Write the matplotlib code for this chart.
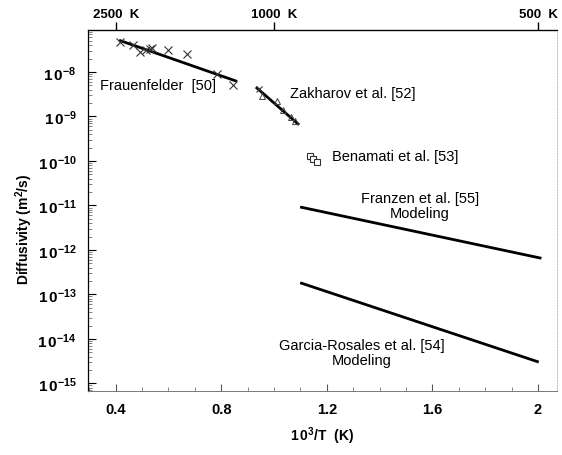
import matplotlib
matplotlib.use("Agg")
import matplotlib.pyplot as plt
import numpy as np
from matplotlib.ticker import (FixedLocator, FuncFormatter,
                               MultipleLocator, NullFormatter)

plt.rcParams['font.family'] = ['Liberation Sans', 'DejaVu Sans']
plt.rcParams['mathtext.fontset'] = 'custom'
plt.rcParams['mathtext.rm'] = 'Liberation Sans'
plt.rcParams['mathtext.bf'] = 'Liberation Sans:bold'

# Frauenfelder [50] measurements and fit
frau_x = [0.418, 0.466, 0.491, 0.516, 0.529, 0.539, 0.598, 0.672, 0.782, 0.845]
frau_d = [4.8e-8, 4.05e-8, 2.77e-8, 3.17e-8, 3.29e-8, 3.41e-8, 3.12e-8, 2.53e-8, 9.0e-9, 5.1e-9]
frau_fit_x = [0.418, 0.855]
frau_fit_d = [5.05e-8, 6.3e-9]

# Zakharov et al. [52]
zak_x = [0.943, 0.956, 1.012, 1.034, 1.064, 1.079]
zak_d = [4.15e-9, 2.85e-9, 2.27e-9, 1.42e-9, 9.6e-10, 8.05e-10]
zak_fit_x = [0.935, 1.091]
zak_fit_d = [4.37e-9, 6.8e-10]

# Benamati et al. [53]
ben_x = [1.136, 1.148, 1.163]
ben_d = [1.28e-10, 1.11e-10, 9.35e-11]

# modeling curves
franzen_x = [1.104, 2.008]
franzen_d = [9.1e-12, 6.6e-13]
garcia_x = [1.104, 1.998]
garcia_d = [1.79e-13, 3.09e-15]

x_ticks = [0.4, 0.8, 1.2, 1.6, 2.0]
y_decades = [-15, -14, -13, -12, -11, -10, -9, -8]
top_ticks = [0.4, 1.0, 2.0]
top_labels = ['2500  K', '1000  K', '500  K']

fig = plt.figure(figsize=(5.62, 4.56), dpi=100)
ax = fig.add_axes([0.1566, 0.1404, 0.8344, 0.7916])

ax.plot(frau_fit_x, frau_fit_d, color='black', lw=2)
ax.plot(frau_x, frau_d, 'x', color='#333333', ms=6, mew=0.8)
ax.plot(zak_fit_x, zak_fit_d, color='black', lw=2)
ax.plot(zak_x[:1], zak_d[:1], 'x', color='#333333', ms=5, mew=0.8)
ax.plot(zak_x[1:], zak_d[1:], '^', mfc='none', mec='#444444', ms=5, mew=0.7)
ax.plot(ben_x, ben_d, 's', mfc='white', mec='#333333', ms=5, mew=0.8)
ax.plot(franzen_x, franzen_d, color='black', lw=2)
ax.plot(garcia_x, garcia_d, color='black', lw=2)

ax.set_yscale('log')
ax.set_xlim(0.295, 2.072)
ax.set_ylim(10 ** -15.17, 10 ** -7.056)

fs = 10.5
ax.text(0.339, 5.1e-9, 'Frauenfelder  [50]', fontsize=fs, va='center')
ax.text(1.06, 3.4e-9, 'Zakharov et al. [52]', fontsize=fs, va='center')
ax.text(1.219, 1.3e-10, 'Benamati et al. [53]', fontsize=fs, va='center')
ax.text(1.553, 9.8e-12, 'Franzen et al. [55]\nModeling', fontsize=fs,
        ha='center', va='center', linespacing=1.1)
ax.text(1.333, 4.9e-15, 'Garcia-Rosales et al. [54]\nModeling', fontsize=fs,
        ha='center', va='center', linespacing=1.1)

# spines
ax.spines['left'].set_linewidth(0.9)
ax.spines['top'].set_linewidth(0.9)
ax.spines['bottom'].set_color('#777777')
ax.spines['bottom'].set_linewidth(0.7)
ax.spines['right'].set_color('#bbbbbb')
ax.spines['right'].set_linestyle(':')
ax.spines['right'].set_linewidth(0.7)

ax.xaxis.set_major_locator(FixedLocator(x_ticks))
ax.xaxis.set_minor_locator(MultipleLocator(0.1))
ax.xaxis.set_major_formatter(FuncFormatter(lambda v, p: f'{v:g}'))
ax.xaxis.set_minor_formatter(NullFormatter())
ax.tick_params(axis='x', which='both', direction='in', top=False, pad=8,
               labelsize=10.5)
ax.tick_params(axis='x', which='major', length=5, width=0.8, colors='#555555',
               labelcolor='black')
ax.tick_params(axis='x', which='minor', length=3, width=0.6, colors='#777777')
for lab in ax.get_xticklabels():
    lab.set_fontweight('bold')

# decade ticks plus 2..9 minor ticks, only inside the visible range
major_y = [10.0 ** d for d in y_decades]
minor_y = [m * 10.0 ** d for d in range(-16, -6) for m in range(2, 10)]
lo, hi = ax.get_ylim()
minor_y = [v for v in minor_y if lo <= v <= hi]
ax.yaxis.set_major_locator(FixedLocator(major_y))
ax.yaxis.set_minor_locator(FixedLocator(minor_y))
ax.yaxis.set_major_formatter(FuncFormatter(
    lambda v, p: r'$\mathbf{1\,0^{%d}}$' % round(np.log10(v))))
ax.yaxis.set_minor_formatter(NullFormatter())
ax.tick_params(axis='y', which='both', direction='in', right=False, pad=8,
               labelsize=11)
ax.tick_params(axis='y', which='major', length=6, width=0.8)
ax.tick_params(axis='y', which='minor', length=3, width=0.5, colors='#555555')

ax.set_xlabel(r'$\mathbf{1\,0^3}$/T  (K)', fontsize=10, fontweight='bold',
              labelpad=6)
ax.set_ylabel(r'Diffusivity (m$\mathbf{^2}$/s)', fontsize=10,
              fontweight='bold')
ax.yaxis.set_label_coords(-0.113, 0.45)

top = ax.secondary_xaxis('top')
top.set_xticks(top_ticks)
top.set_xticklabels(top_labels, fontweight='bold', fontsize=9.5)
top.tick_params(direction='out', length=6, width=1.0, pad=1)
top.xaxis.set_minor_locator(FixedLocator([]))

fig.savefig('out.png', dpi=100)
